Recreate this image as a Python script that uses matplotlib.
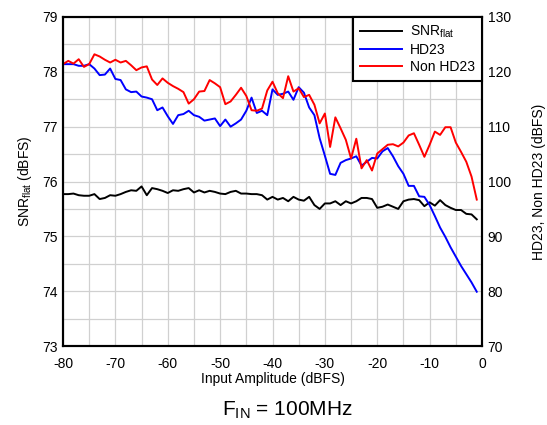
import numpy as np
import matplotlib
matplotlib.use('agg')
import matplotlib.pyplot as plt  # noqa

plt.rcParams['font.family'] = ['Liberation Sans', 'DejaVu Sans']
plt.rcParams['mathtext.fontset'] = 'custom'
plt.rcParams['mathtext.rm'] = 'Liberation Sans'
plt.rcParams['mathtext.it'] = 'Liberation Sans'
plt.rcParams['axes.unicode_minus'] = False

# Input amplitude, 1 dB steps
amplitude = np.arange(-80, 0)

snr_flat = [
    75.77, 75.77, 75.78, 75.75, 75.74, 75.74, 75.77, 75.68, 75.70, 75.75,
    75.74, 75.77, 75.81, 75.84, 75.83, 75.91, 75.75, 75.88, 75.86, 75.83,
    75.79, 75.84, 75.83, 75.86, 75.88, 75.80, 75.84, 75.80, 75.83, 75.81,
    75.78, 75.77, 75.81, 75.83, 75.78, 75.78, 75.77, 75.77, 75.75, 75.67,
    75.72, 75.67, 75.70, 75.64, 75.72, 75.67, 75.65, 75.72, 75.57, 75.50,
    75.60, 75.60, 75.64, 75.57, 75.64, 75.60, 75.64, 75.70, 75.70, 75.68,
    75.52, 75.54, 75.58, 75.54, 75.50, 75.64, 75.67, 75.68, 75.66, 75.55,
    75.62, 75.56, 75.66, 75.57, 75.52, 75.48, 75.48, 75.41, 75.40, 75.31,
]

hd23 = [
    121.4, 121.4, 121.4, 121.1, 121.1, 121.4, 120.6, 119.4, 119.5, 120.6,
    118.7, 118.5, 116.8, 116.3, 116.4, 115.5, 115.3, 115.0, 113.0, 113.5,
    111.9, 110.5, 112.1, 112.3, 112.9, 112.1, 111.8, 111.1, 111.3, 111.5,
    110.1, 111.3, 110.0, 110.6, 111.3, 112.9, 115.3, 112.5, 112.9, 112.1,
    116.8, 115.8, 116.0, 116.4, 114.9, 117.2, 116.2, 113.5, 112.1, 107.9,
    104.7, 101.4, 101.2, 103.4, 103.9, 104.2, 104.6, 102.9, 103.6, 104.3,
    104.2, 105.5, 106.1, 104.6, 102.8, 101.4, 99.2, 99.2, 97.3, 97.2,
    95.7, 93.7, 91.6, 89.9, 88.0, 86.3, 84.6, 83.1, 81.6, 79.9,
]

non_hd23 = [
    121.4, 122.0, 121.5, 122.3, 120.9, 121.4, 123.2, 122.8, 122.2, 121.7,
    122.2, 121.7, 122.0, 121.2, 120.3, 120.8, 121.0, 118.6, 117.6, 118.8,
    118.0, 117.4, 116.9, 116.3, 114.2, 115.0, 116.4, 116.5, 118.5, 117.9,
    117.2, 114.1, 114.6, 115.8, 117.1, 115.6, 113.0, 112.9, 113.3, 116.6,
    118.2, 116.1, 115.2, 119.2, 116.4, 117.0, 115.4, 115.8, 114.0, 110.6,
    112.4, 106.3, 111.7, 109.7, 107.6, 104.2, 107.8, 102.4, 103.9, 102.0,
    105.1, 105.9, 106.7, 106.8, 106.4, 107.1, 108.4, 108.8, 106.7, 104.5,
    106.7, 109.1, 108.5, 109.9, 109.9, 107.1, 105.4, 103.6, 100.9, 96.7,
]

x_ticks = np.arange(-80, 1, 10)
left_ticks = np.arange(73, 80, 1)
right_ticks = np.arange(70, 131, 10)

fig = plt.figure(figsize=(5.47, 4.25), dpi=100)
ax = fig.add_axes([63 / 547, 1 - 346 / 425, 419 / 547, 329 / 425])
ax2 = ax.twinx()

l1, = ax.plot(amplitude, snr_flat, color='black', lw=1.4, label='SNR$_{\\mathrm{flat}}$')
l2, = ax2.plot(amplitude, hd23, color='#0000ff', lw=1.4, label='HD23')
l3, = ax2.plot(amplitude, non_hd23, color='#ff0000', lw=1.4, label='Non HD23')

ax.set_xlim(-80, 0)
ax.set_ylim(73, 79)
ax2.set_ylim(70, 130)
ax.set_xticks(x_ticks)
ax.set_xticks(np.arange(-80, 1, 5), minor=True)
ax.set_yticks(left_ticks)
ax.set_yticks(np.arange(73, 79.01, 0.5), minor=True)
ax2.set_yticks(right_ticks)

ax.grid(True, which='both', color='#d0d0d0', lw=0.9)
ax.set_axisbelow(True)

for a in (ax, ax2):
    a.tick_params(which='both', length=0, labelsize=10, pad=4)
    for s in a.spines.values():
        s.set_linewidth(1.5)
        s.set_color('black')
ax.tick_params(axis='x', pad=8)

ax.set_xlabel('Input Amplitude (dBFS)', fontsize=10, labelpad=1)
ax.set_ylabel('SNR$_{\\mathrm{flat}}$ (dBFS)', fontsize=10, labelpad=6)
ax2.set_ylabel('HD23, Non HD23 (dBFS)', fontsize=10, labelpad=15)

leg = ax2.legend(handles=[l1, l2, l3], loc='upper right', fontsize=10,
                 borderaxespad=0, fancybox=False, framealpha=1,
                 handlelength=3.0, handletextpad=0.6, labelspacing=0.2,
                 borderpad=0.5)
leg.get_frame().set_edgecolor('black')
leg.get_frame().set_linewidth(1.5)

fig.text(287 / 547, 1 - 410 / 425, 'F$_{\\mathrm{IN}}$ = 100MHz', fontsize=15,
         ha='center', va='center')

fig.savefig('out.png', dpi=100)
